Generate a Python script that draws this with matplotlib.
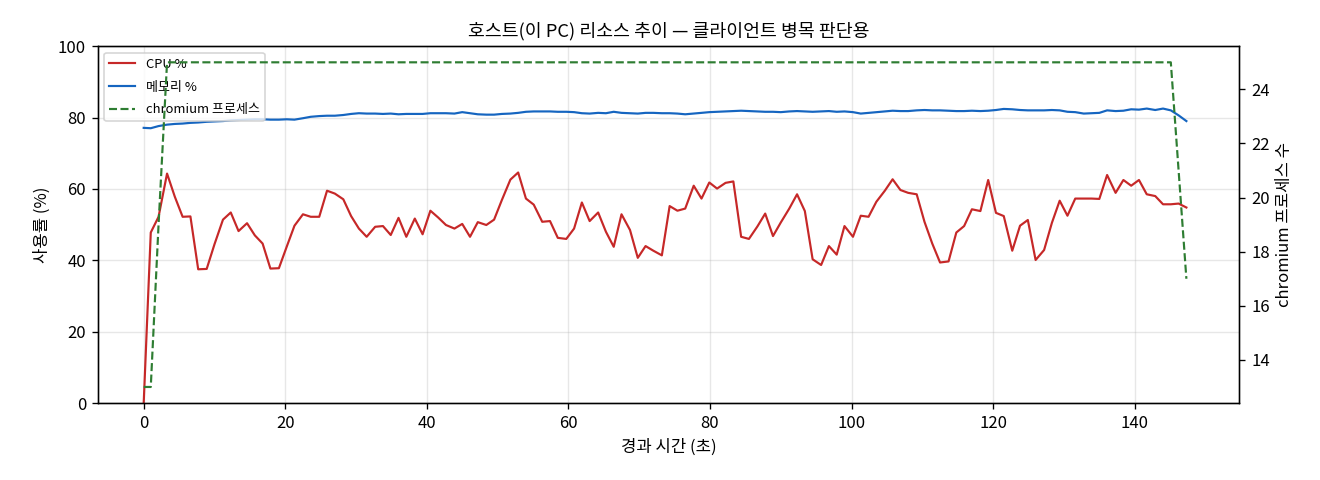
#!usr/bin/python
"""
Host resource trend chart: CPU / memory % and chromium process count
"""
import matplotlib
matplotlib.use('Agg')
import matplotlib.pyplot as plt

plt.rcParams['font.family'] = ['Noto Sans CJK KR', 'DejaVu Sans']
plt.rcParams['axes.unicode_minus'] = False

# elapsed seconds
elapsed_s = [
    0.0, 1.0, 2.1, 3.3, 4.4, 5.5, 6.6, 7.7, 8.9, 10.0,
    11.2, 12.3, 13.4, 14.6, 15.7, 16.8, 17.9, 19.1, 20.2, 21.3,
    22.5, 23.6, 24.8, 25.9, 27.0, 28.2, 29.3, 30.4, 31.5, 32.7,
    33.8, 34.9, 36.0, 37.1, 38.3, 39.4, 40.5, 41.6, 42.7, 43.9,
    45.0, 46.1, 47.2, 48.4, 49.5, 50.6, 51.8, 52.9, 54.0, 55.1,
    56.3, 57.4, 58.5, 59.7, 60.8, 61.9, 63.0, 64.2, 65.3, 66.4,
    67.5, 68.7, 69.8, 70.9, 72.0, 73.2, 74.3, 75.4, 76.5, 77.7,
    78.8, 79.9, 81.0, 82.2, 83.3, 84.4, 85.5, 86.7, 87.8, 88.9,
    90.0, 91.2, 92.3, 93.4, 94.5, 95.7, 96.8, 97.9, 99.0, 100.2,
    101.3, 102.4, 103.5, 104.7, 105.8, 106.9, 108.0, 109.2, 110.3, 111.4,
    112.5, 113.7, 114.8, 115.9, 117.0, 118.2, 119.3, 120.4, 121.5, 122.7,
    123.8, 124.9, 126.0, 127.2, 128.3, 129.4, 130.5, 131.6, 132.8, 133.9,
    135.0, 136.1, 137.3, 138.4, 139.5, 140.6, 141.7, 142.9, 144.0, 145.1,
    146.2, 147.3,
]

cpu_pct = [
    0.0, 47.8, 52.2, 64.3, 57.8, 52.2, 52.3, 37.5, 37.6, 44.5,
    51.4, 53.4, 48.2, 50.4, 47.0, 44.7, 37.7, 37.8, 43.8, 49.7,
    52.9, 52.2, 52.2, 59.5, 58.7, 57.1, 52.4, 48.9, 46.6, 49.4,
    49.6, 47.1, 51.9, 46.6, 51.7, 47.3, 53.9, 52.0, 49.9, 48.9,
    50.2, 46.6, 50.7, 49.9, 51.4, 56.9, 62.6, 64.6, 57.3, 55.6,
    50.8, 51.0, 46.3, 46.0, 48.9, 56.2, 51.0, 53.4, 48.0, 43.8,
    52.9, 48.5, 40.7, 44.0, 42.7, 41.4, 55.2, 53.9, 54.5, 60.9,
    57.3, 61.8, 60.1, 61.7, 62.1, 46.6, 46.0, 49.5, 53.1, 46.8,
    50.6, 54.5, 58.5, 53.8, 40.3, 38.7, 44.0, 41.6, 49.6, 46.6,
    52.5, 52.2, 56.4, 59.5, 62.7, 59.7, 58.9, 58.5, 50.8, 44.7,
    39.4, 39.7, 47.8, 49.6, 54.3, 53.8, 62.5, 53.3, 52.4, 42.7,
    49.7, 51.3, 40.1, 42.9, 50.5, 56.7, 52.5, 57.3, 57.3, 57.3,
    57.2, 63.9, 58.9, 62.5, 60.9, 62.5, 58.5, 58.0, 55.7, 55.7,
    55.9, 54.8,
]

mem_pct = [
    77.1, 77.0, 77.6, 78.0, 78.2, 78.3, 78.5, 78.6, 78.8, 78.9,
    79.0, 79.2, 79.3, 79.4, 79.5, 79.5, 79.4, 79.4, 79.5, 79.4,
    79.8, 80.2, 80.4, 80.5, 80.5, 80.7, 81.0, 81.2, 81.1, 81.1,
    81.0, 81.1, 80.9, 81.0, 81.0, 81.0, 81.2, 81.2, 81.2, 81.1,
    81.5, 81.2, 80.9, 80.8, 80.8, 81.0, 81.1, 81.3, 81.6, 81.7,
    81.7, 81.7, 81.6, 81.6, 81.5, 81.2, 81.1, 81.3, 81.2, 81.6,
    81.3, 81.2, 81.1, 81.3, 81.3, 81.2, 81.2, 81.1, 80.9, 81.1,
    81.3, 81.5, 81.6, 81.7, 81.8, 81.9, 81.8, 81.7, 81.6, 81.6,
    81.5, 81.7, 81.8, 81.7, 81.6, 81.7, 81.8, 81.6, 81.7, 81.5,
    81.1, 81.3, 81.5, 81.7, 81.9, 81.8, 81.8, 82.0, 82.1, 82.0,
    82.0, 81.9, 81.8, 81.8, 81.9, 81.8, 81.9, 82.1, 82.4, 82.3,
    82.1, 82.0, 82.0, 82.0, 82.1, 82.0, 81.6, 81.5, 81.1, 81.2,
    81.3, 82.0, 81.8, 81.9, 82.3, 82.2, 82.5, 82.1, 82.5, 82.0,
    80.6, 79.0,
]

chromium_procs = [
    13, 13, 19, 25, 25, 25, 25, 25, 25, 25,
    25, 25, 25, 25, 25, 25, 25, 25, 25, 25,
    25, 25, 25, 25, 25, 25, 25, 25, 25, 25,
    25, 25, 25, 25, 25, 25, 25, 25, 25, 25,
    25, 25, 25, 25, 25, 25, 25, 25, 25, 25,
    25, 25, 25, 25, 25, 25, 25, 25, 25, 25,
    25, 25, 25, 25, 25, 25, 25, 25, 25, 25,
    25, 25, 25, 25, 25, 25, 25, 25, 25, 25,
    25, 25, 25, 25, 25, 25, 25, 25, 25, 25,
    25, 25, 25, 25, 25, 25, 25, 25, 25, 25,
    25, 25, 25, 25, 25, 25, 25, 25, 25, 25,
    25, 25, 25, 25, 25, 25, 25, 25, 25, 25,
    25, 25, 25, 25, 25, 25, 25, 25, 25, 25,
    21, 17,
]


def main():
    fig, ax = plt.subplots(figsize=(11, 4), dpi=120)
    fig.subplots_adjust(left=0.074, right=0.939, top=0.904, bottom=0.160)

    l_cpu, = ax.plot(elapsed_s, cpu_pct, color='#c62828', lw=1.3, label='CPU %')
    l_mem, = ax.plot(elapsed_s, mem_pct, color='#1565c0', lw=1.3, label='메모리 %')
    ax.set_xlim(-6.5, 154.8)
    ax.set_ylim(0, 100)
    ax.set_xlabel('경과 시간 (초)')
    ax.set_ylabel('사용률 (%)')
    ax.grid(True, alpha=0.3)
    ax.set_title('호스트(이 PC) 리소스 추이 — 클라이언트 병목 판단용', fontsize=11)

    ax2 = ax.twinx()
    l_proc, = ax2.plot(elapsed_s, chromium_procs, color='#2e7d32', lw=1.3,
                       ls='--', label='chromium 프로세스')
    ax2.set_ylabel('chromium 프로세스 수')

    lines = [l_cpu, l_mem, l_proc]
    ax.legend(lines, [ln.get_label() for ln in lines], loc='upper left',
              fontsize=7.8, labelspacing=0.75)

    fig.savefig('out.png', dpi=120)


if __name__ == '__main__':
    main()
